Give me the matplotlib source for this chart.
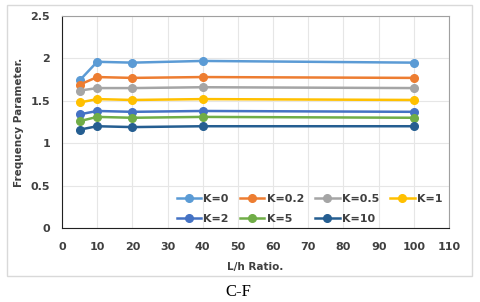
import matplotlib.pyplot as plt
from matplotlib.patches import Rectangle

# L/h ratio values
lh = [5, 10, 20, 40, 100]

# Frequency parameter for each K
k_labels = ['K=0', 'K=0.2', 'K=0.5', 'K=1', 'K=2', 'K=5', 'K=10']
k0 = [1.74, 1.96, 1.95, 1.97, 1.95]
k02 = [1.69, 1.78, 1.77, 1.78, 1.77]
k05 = [1.62, 1.65, 1.65, 1.66, 1.65]
k1 = [1.48, 1.52, 1.51, 1.52, 1.51]
k2 = [1.34, 1.38, 1.37, 1.38, 1.37]
k5 = [1.26, 1.31, 1.30, 1.31, 1.30]
k10 = [1.16, 1.20, 1.19, 1.20, 1.20]
series = [k0, k02, k05, k1, k2, k5, k10]
colors = ['#5B9BD5', '#ED7D31', '#A5A5A5', '#FFC000', '#4472C4', '#70AD47', '#255E91']

fig = plt.figure(figsize=(4.8, 3.02), dpi=100)
ax = fig.add_axes([62 / 480, 1 - 228 / 302, (449 - 62) / 480, (228 - 16) / 302])

# outer chart border
fig.patches.append(Rectangle((6.5 / 480, 1 - 276 / 302), 465.5 / 480, 271.5 / 302,
                             transform=fig.transFigure, fill=False,
                             edgecolor='#d9d9d9', linewidth=1))

lines = []
for ys, lab, c in zip(series, k_labels, colors):
    ln, = ax.plot(lh, ys, color=c, linewidth=1.8, marker='o', markersize=5.5, label=lab)
    lines.append(ln)

ax.set_xlim(0, 110)
ax.set_ylim(0, 2.5)
ax.set_xticks(range(0, 111, 10))
ax.set_yticks([0, 0.5, 1, 1.5, 2, 2.5])
ax.set_yticklabels(['0', '0.5', '1', '1.5', '2', '2.5'])
ax.grid(True, color='#e6e6e6', linewidth=0.8)
ax.set_axisbelow(True)
ax.tick_params(length=0, labelsize=8, colors='#404040')
ax.tick_params(axis='x', pad=10)
ax.tick_params(axis='y', pad=8.5)
for lbl in ax.get_xticklabels() + ax.get_yticklabels():
    lbl.set_fontweight('bold')

for side in ['top', 'right']:
    ax.spines[side].set_color('#a0a0a0')
for side in ['left', 'bottom']:
    ax.spines[side].set_color('#202020')

ax.set_xlabel('L/h Ratio.', fontsize=7.5, fontweight='bold', color='#404040', labelpad=7)
ax.set_ylabel('Frequency Parameter.', fontsize=7.5, fontweight='bold', color='#404040', labelpad=5)

# legend filled row by row, as in the original
order = [0, 4, 1, 5, 2, 6, 3]
leg = ax.legend([lines[i] for i in order], [k_labels[i] for i in order],
                ncol=4, loc='lower left', bbox_to_anchor=(0.285, 0.0), borderaxespad=0.0,
                frameon=False, fontsize=8, handlelength=2.2, columnspacing=1.0,
                handletextpad=0.2, labelspacing=0.9)
for t in leg.get_texts():
    t.set_fontweight('bold')
    t.set_color('#404040')

fig.text(238 / 480, 1 - 291.5 / 302, 'C-F', ha='center', va='center', fontsize=12,
         family='Liberation Serif')

fig.savefig('out.png', dpi=100)
